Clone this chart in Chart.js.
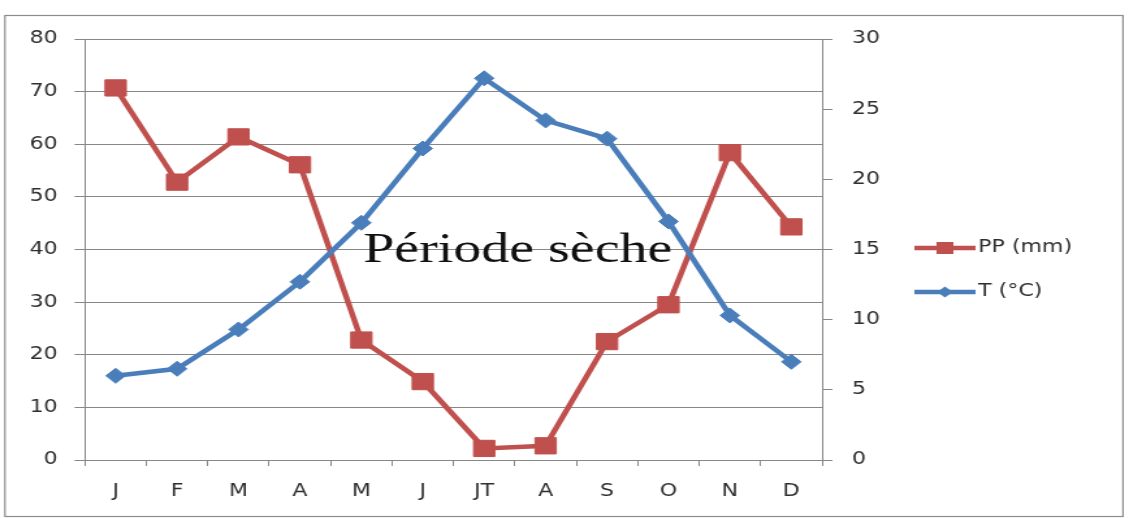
<!DOCTYPE html>
<html lang="fr">
<head>
    <meta charset="UTF-8">
    <title>Diagramme ombrothermique</title>
    <script src="https://cdn.jsdelivr.net/npm/chart.js"></script>
    <style>
        body { margin: 0; background: #fff; }
    </style>
</head>
<body>
<!-- le canvas est étiré en largeur comme l'image d'origine (style en ligne pour que Chart.js le garde) -->
<canvas id="climatChart" width="868" height="518" style="display:block;width:1129px;height:518px"></canvas>
<script>
    // mois
    const mois = ['J', 'F', 'M', 'A', 'M', 'J', 'JT', 'A', 'S', 'O', 'N', 'D'];
    // précipitations (mm) - axe gauche
    const precipitations = [70.7, 52.8, 61.4, 56.1, 22.8, 14.9, 2.2, 2.7, 22.5, 29.5, 58.4, 44.3];
    // températures (°C) - axe droit
    const temperatures = [6.0, 6.5, 9.3, 12.7, 16.9, 22.2, 27.2, 24.2, 22.9, 17.0, 10.3, 7.0];
    const ppMax = 80, ppStep = 10;
    const tMax = 30, tStep = 5;
    const annotation = 'Période sèche';

    const rouge = '#C0504D';
    const bleu = '#4A7EBB';
    const gris = '#878787';
    const texte = '#2e2e2e';
    const police = { family: 'DejaVu Sans', size: 17 };

    // cadre extérieur
    const cadrePlugin = {
        id: 'cadre',
        beforeDraw(chart) {
            const ctx = chart.ctx;
            ctx.save();
            ctx.strokeStyle = '#8c8c8c';
            ctx.lineWidth = 1.2;
            ctx.strokeRect(3.8, 15.5, 859.6, 501);
            ctx.restore();
        }
    };

    // texte "Période sèche" + légende à droite
    const textePlugin = {
        id: 'texte',
        afterDatasetsDraw(chart) {
            const ctx = chart.ctx;
            ctx.save();
            ctx.font = '43px "Liberation Serif"';
            ctx.fillStyle = '#111';
            ctx.textAlign = 'center';
            ctx.textBaseline = 'alphabetic';
            ctx.fillText(annotation, 398, 262);

            chart.data.datasets.forEach((ds, i) => {
                const y = 248 + i * 44;
                ctx.strokeStyle = ds.borderColor;
                ctx.fillStyle = ds.borderColor;
                ctx.lineWidth = 4.5;
                ctx.beginPath();
                ctx.moveTo(703, y);
                ctx.lineTo(750, y);
                ctx.stroke();
                ctx.beginPath();
                if (ds.pointStyle === 'rect') {
                    ctx.rect(726.5 - 6.5, y - 6, 13, 12);
                } else {
                    ctx.moveTo(726.5 - 6, y);
                    ctx.lineTo(726.5, y - 5.5);
                    ctx.lineTo(726.5 + 6, y);
                    ctx.lineTo(726.5, y + 5.5);
                    ctx.closePath();
                }
                ctx.fill();
                ctx.fillStyle = texte;
                ctx.font = '17px "DejaVu Sans"';
                ctx.textAlign = 'left';
                ctx.textBaseline = 'middle';
                ctx.fillText(ds.label, 752, y);
            });
            ctx.restore();
        }
    };

    const ctx = document.getElementById('climatChart').getContext('2d');
    new Chart(ctx, {
        type: 'line',
        data: {
            labels: mois,
            datasets: [
                {
                    label: 'PP (mm)',
                    data: precipitations,
                    yAxisID: 'y',
                    borderColor: rouge,
                    backgroundColor: rouge,
                    borderWidth: 4.5,
                    pointStyle: 'rect',
                    pointRadius: 11.5,
                    pointBorderWidth: 1,
                    order: 1
                },
                {
                    label: 'T (°C)',
                    data: temperatures,
                    yAxisID: 'y2',
                    borderColor: bleu,
                    backgroundColor: bleu,
                    borderWidth: 4.5,
                    pointStyle: 'rectRot',
                    pointRadius: 7.5,
                    pointBorderWidth: 1,
                    order: 0
                }
            ]
        },
        options: {
            responsive: false,
            devicePixelRatio: 1,
            animation: false,
            layout: { padding: { left: 0, top: 39, right: 186, bottom: 0 } },
            plugins: {
                legend: { display: false },
                tooltip: { enabled: false }
            },
            scales: {
                x: {
                    offset: true,
                    grid: { offset: true, drawOnChartArea: false, tickLength: 6, color: gris },
                    border: { color: gris },
                    ticks: { color: texte, font: police, padding: 15 },
                    afterFit(scale) { scale.height = 58; }
                },
                y: {
                    position: 'left',
                    min: 0,
                    max: ppMax,
                    ticks: { stepSize: ppStep, color: texte, font: police, padding: 13 },
                    grid: { color: gris, tickLength: 8 },
                    border: { color: gris },
                    afterFit(scale) { scale.width = 65.3; }
                },
                y2: {
                    position: 'right',
                    min: 0,
                    max: tMax,
                    ticks: { stepSize: tStep, color: texte, font: police, padding: 15 },
                    grid: { drawOnChartArea: false, color: gris, tickLength: 8 },
                    border: { color: gris },
                    afterFit(scale) { scale.width = 50; }
                }
            }
        },
        plugins: [cadrePlugin, textePlugin]
    });
</script>
</body>
</html>
